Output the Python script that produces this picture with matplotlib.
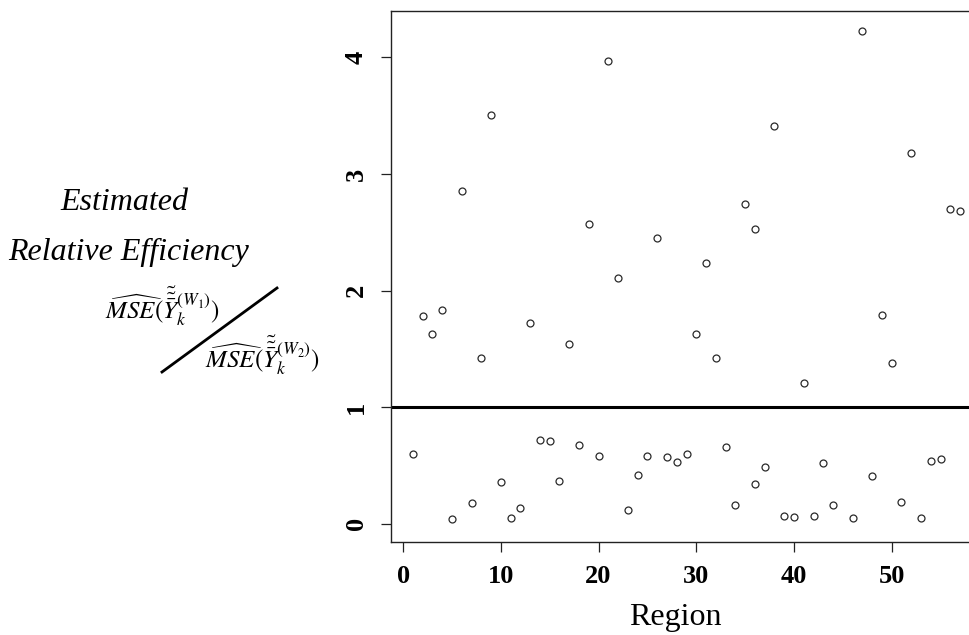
import numpy as np
import matplotlib
matplotlib.use("Agg")
import matplotlib.pyplot as plt
from matplotlib.lines import Line2D

plt.rcParams['font.family'] = ['Liberation Serif', 'DejaVu Serif']
plt.rcParams['mathtext.fontset'] = 'stix'

# region index and estimated relative efficiency
region = [1, 2, 3, 4, 5, 6, 7, 8, 9, 10, 11, 12, 13, 14, 15, 16, 17, 18, 19, 20,
          21, 22, 23, 24, 25, 26, 27, 28, 29, 30, 31, 32, 33, 34, 35, 36, 36, 37,
          38, 39, 40, 41, 42, 43, 44, 46, 47, 48, 49, 50, 51, 52, 53, 54, 55, 56, 57]
efficiency = [0.60, 1.78, 1.63, 1.83, 0.043, 2.85, 0.18, 1.42, 3.51, 0.36, 0.05, 0.14,
              1.72, 0.72, 0.71, 0.37, 1.545, 0.68, 2.57, 0.58, 3.97, 2.11, 0.12, 0.42,
              0.58, 2.45, 0.574, 0.53, 0.60, 1.63, 2.24, 1.425, 0.66, 0.16, 2.74, 2.525,
              0.34, 0.485, 3.41, 0.07, 0.06, 1.205, 0.07, 0.525, 0.16, 0.05, 4.23, 0.41,
              1.79, 1.38, 0.19, 3.18, 0.05, 0.537, 0.555, 2.70, 2.68]
xticks = [0, 10, 20, 30, 40, 50]
yticks = [0, 1, 2, 3, 4]

W, H = 969, 635
fig = plt.figure(figsize=(W / 100, H / 100), dpi=100)
# axes extends past the right edge (reference is cropped there)
left, right, top, bottom = 391, 982, 10.7, 542
ax = fig.add_axes([left / W, 1 - bottom / H, (right - left) / W, (bottom - top) / H])

ax.plot(region, efficiency, linestyle='none', marker='o', markersize=5,
        markerfacecolor='white', markeredgecolor='#2a2a2a', markeredgewidth=0.9)
ax.axhline(1, color='black', linewidth=2.2)

ax.set_xlim(-1.24, 59.24)
ax.set_ylim(-0.155, 4.40)
ax.set_xticks(xticks)
ax.set_yticks(yticks)
ax.tick_params(direction='out', length=7.5, width=0.9, color='#222222', labelsize=19)
ax.tick_params(axis='x', pad=9)
ax.tick_params(axis='y', pad=9)
for lab in ax.get_xticklabels() + ax.get_yticklabels():
    lab.set_fontweight('bold')
for lab in ax.get_yticklabels():
    lab.set_rotation(90)
    lab.set_va('center')
for sp in ax.spines.values():
    sp.set_linewidth(1.0)
    sp.set_color('#222222')

fig.text(675 / W, 1 - 618 / H, 'Region', ha='center', va='center', fontsize=23)

# left-hand annotation
fig.text(124 / W, 1 - 202 / H, 'Estimated', ha='center', va='center',
         fontsize=23, style='italic')
fig.text(129 / W, 1 - 252 / H, 'Relative Efficiency', ha='center', va='center',
         fontsize=23, style='italic')
fig.text(163 / W, 1 - 306 / H, r'$\widehat{MSE}(\tilde{\tilde{\bar{Y}}}_k^{(W_1)})$',
         ha='center', va='center', fontsize=18)
fig.text(263 / W, 1 - 355 / H, r'$\widehat{MSE}(\tilde{\tilde{\bar{Y}}}_k^{(W_2)})$',
         ha='center', va='center', fontsize=18)
fig.add_artist(Line2D([162 / W, 277 / W], [1 - 372 / H, 1 - 288 / H],
                      transform=fig.transFigure, color='black', linewidth=2.0))

fig.savefig('out.png', dpi=100)
